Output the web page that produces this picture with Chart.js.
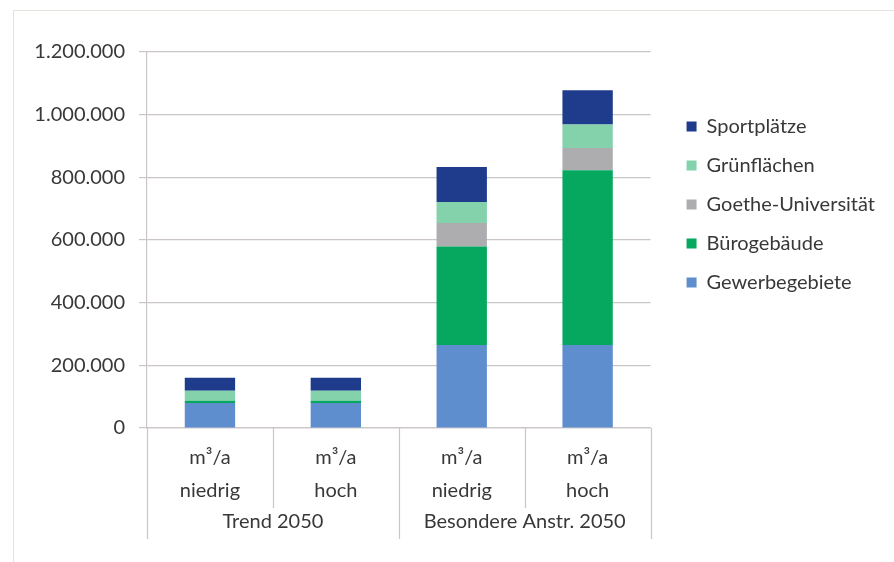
<!DOCTYPE html>
<html>
<head>
<meta charset="utf-8">
<script src="https://cdn.jsdelivr.net/npm/chart.js@4"></script>
<style>
  html, body { margin: 0; padding: 0; background: #fff; }
  #wrap { position: relative; width: 894px; height: 562px; }
  #frame { position: absolute; left: 13px; top: 10px; right: 0; bottom: 0;
           border-top: 1px solid #e8e3da; border-left: 1px solid #e8e3da; }
  canvas { position: absolute; left: 0; top: 0; }
</style>
</head>
<body>
<div id="wrap">
  <div id="frame"></div>
  <canvas id="chart" width="894" height="562"></canvas>
</div>
<script>
// categories (two levels)
const scenarioLabels = [['m³/a', 'niedrig'], ['m³/a', 'hoch'], ['m³/a', 'niedrig'], ['m³/a', 'hoch']];
const groupLabels = ['Trend 2050', 'Besondere Anstr. 2050'];

// series values in m³/a
const gewerbegebiete = [80000, 80000, 265000, 265000];
const buerogebaeude = [7000, 7000, 314000, 558000];
const goetheUni = [0, 0, 75000, 71000];
const gruenflaechen = [32000, 32000, 67000, 75000];
const sportplaetze = [41000, 41000, 112000, 109000];

const yTicks = [0, 200000, 400000, 600000, 800000, 1000000, 1200000];

const textColor = '#383838';
const gridColor = '#cbc5c5';
const fontFamily = 'Lato, "Open Sans", sans-serif';

function formatDe(v) {
    return String(v).replace(/\B(?=(\d{3})+(?!\d))/g, '.');
}

// separator lines below the x axis (between categories and groups)
const separatorPlugin = {
    id: 'separators',
    afterDraw(chart) {
        const x = chart.scales.x;
        const area = chart.chartArea;
        const ctx = chart.ctx;
        const n = scenarioLabels.length;
        const step = (area.right - area.left) / n;
        ctx.save();
        ctx.strokeStyle = gridColor;
        ctx.lineWidth = 1.2;
        for (let i = 0; i <= n; i++) {
            const px = Math.round(area.left + i * step) + 0.5;
            const bottom = (i % 2 === 0) ? x.bottom + 31 : x.bottom;
            ctx.beginPath();
            ctx.moveTo(px, area.bottom);
            ctx.lineTo(px, bottom);
            ctx.stroke();
        }
        ctx.restore();
    }
};

const ctx = document.getElementById('chart').getContext('2d');
new Chart(ctx, {
    type: 'bar',
    data: {
        labels: scenarioLabels,
        datasets: [
            { label: 'Gewerbegebiete', data: gewerbegebiete, backgroundColor: '#5f8ecf' },
            { label: 'Bürogebäude', data: buerogebaeude, backgroundColor: '#06a860' },
            { label: 'Goethe-Universität', data: goetheUni, backgroundColor: '#adadb0' },
            { label: 'Grünflächen', data: gruenflaechen, backgroundColor: '#84d2ab' },
            { label: 'Sportplätze', data: sportplaetze, backgroundColor: '#1f3c8c' }
        ]
    },
    options: {
        responsive: false,
        animation: false,
        layout: { padding: { top: 52, right: 9, bottom: 20, left: 0 } },
        datasets: {
            bar: { categoryPercentage: 1, barPercentage: 0.4, borderWidth: 0 }
        },
        scales: {
            x: {
                stacked: true,
                grid: { display: false, drawTicks: false },
                border: { display: true, color: gridColor, width: 1.2 },
                ticks: {
                    color: textColor,
                    padding: 13,
                    font: { family: fontFamily, size: 20, lineHeight: 1.65 }
                },
                afterFit: function(scale) { scale.height = 80; }
            },
            x2: {
                type: 'category',
                labels: groupLabels,
                position: 'bottom',
                offset: true,
                grid: { display: false, drawTicks: false },
                border: { display: false },
                ticks: {
                    color: textColor,
                    padding: 2,
                    font: { family: fontFamily, size: 20 }
                },
                afterFit: function(scale) { scale.height = 34; }
            },
            y: {
                stacked: true,
                min: 0,
                max: 1200000,
                afterBuildTicks: function(scale) {
                    scale.ticks = yTicks.map(v => ({ value: v }));
                },
                grid: { color: gridColor, lineWidth: 1.2, tickLength: 8 },
                border: { display: true, color: gridColor, width: 1.2 },
                ticks: {
                    color: textColor,
                    padding: 14,
                    font: { family: fontFamily, size: 20 },
                    callback: function(value) { return formatDe(value); }
                },
                afterFit: function(scale) { scale.width = 147; }
            },
            // empty spacer between plot and legend
            gap: {
                type: 'linear',
                position: 'right',
                display: true,
                grid: { display: false, drawTicks: false },
                border: { display: false },
                ticks: { display: false },
                afterFit: function(scale) { scale.width = 17; }
            }
        },
        plugins: {
            legend: {
                position: 'right',
                align: 'start',
                reverse: true,
                maxWidth: 400,
                title: { display: true, text: ' ', padding: { top: 31, bottom: 0 } },
                labels: {
                    color: textColor,
                    boxWidth: 10,
                    boxHeight: 10,
                    padding: 19,
                    font: { family: fontFamily, size: 20 }
                }
            },
            tooltip: { enabled: false }
        }
    },
    plugins: [separatorPlugin]
});
</script>
</body>
</html>
